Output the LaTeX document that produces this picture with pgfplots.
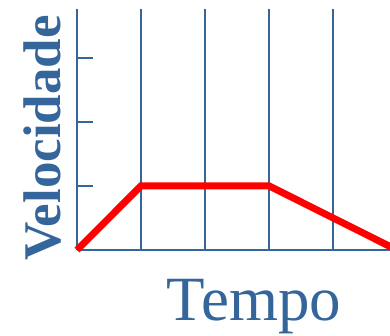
\documentclass[border=0pt]{standalone}
\usepackage{pgfplots}
\pgfplotsset{compat=1.18}
\usepackage{fontspec}
\setmainfont{Liberation Serif}
\definecolor{steel}{RGB}{52,102,155}
\begin{document}
\begin{tikzpicture}
\begin{axis}[
  scale only axis,
  width=313bp, height=241bp,
  xmin=0, xmax=4.89, ymin=0, ymax=3.76,
  clip=false,
  axis x line*=bottom, axis y line*=left,
  axis line style={steel, line width=1.8bp},
  xtick={1,2,3,4}, ytick={1,2,3},
  xticklabels={}, yticklabels={},
  xmajorgrids=true,
  grid style={steel, line width=1.8bp},
  xtick style={draw=none},
  ytick style={steel, line width=1.8bp},
  tick align=inside,
  major tick length=16bp,
  xlabel={Tempo},
  ylabel={Velocidade},
  xlabel style={font=\fontsize{63bp}{63bp}\selectfont, text=steel, anchor=base, at={(axis description cs:0.5655,-0.2905)}, inner sep=0pt},
  ylabel style={font=\fontsize{53bp}{53bp}\selectfont\bfseries, text=steel, anchor=base, at={(axis description cs:-0.0543,0.4647)}, inner sep=0pt},
]
\addplot[red, line width=7bp, mark=none] coordinates {(0,0) (1,1) (3,1) (5,0)};
\end{axis}
\pgfresetboundingbox
\path (-77bp,-86bp) rectangle (313bp,250bp);
\end{tikzpicture}
\end{document}
